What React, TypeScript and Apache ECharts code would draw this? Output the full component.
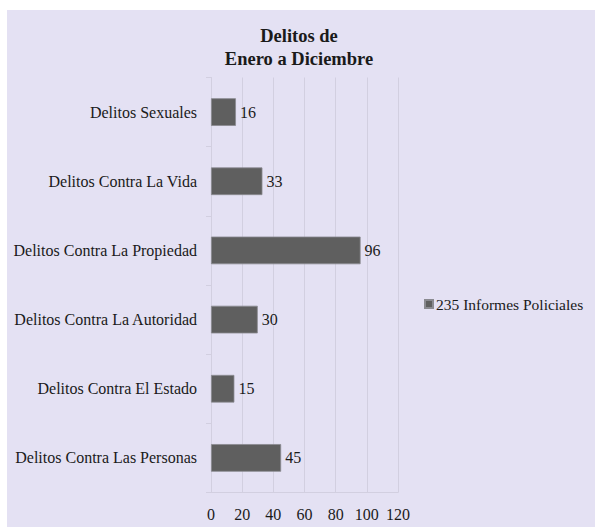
import React, { useEffect, useRef } from "react";
import * as echarts from "echarts";

const categories = [
  "Delitos Sexuales",
  "Delitos Contra La Vida",
  "Delitos Contra La Propiedad",
  "Delitos Contra La Autoridad",
  "Delitos Contra El Estado",
  "Delitos Contra Las Personas",
];
const values = [16, 33, 96, 30, 15, 45];
const seriesName = "235 Informes Policiales";
const titleText = "Delitos de\nEnero a Diciembre";

const FONT = "'Liberation Serif', 'DejaVu Serif', serif";

export default function App() {
  const ref = useRef<HTMLDivElement>(null);
  useEffect(() => {
    if (!ref.current) return;
    const chart = echarts.init(ref.current, undefined, { renderer: "svg" });
    chart.setOption({
      animation: false,
      backgroundColor: "#e4e1f3",
      textStyle: { fontFamily: FONT },
      title: {
        text: titleText,
        left: 287,
        top: 9,
        textAlign: "center",
        textStyle: {
          fontFamily: FONT,
          fontSize: 18.5,
          fontWeight: "bold",
          color: "#1a1a1a",
          lineHeight: 23,
        },
      },
      legend: {
        data: [seriesName],
        left: 412,
        top: 281,
        icon: "rect",
        itemWidth: 8,
        itemHeight: 8,
        itemGap: 4,
        textStyle: { fontFamily: FONT, fontSize: 15.5, color: "#1a1a1a", padding: [0, 0, 0, -2] },
      },
      grid: { left: 204, right: 197, top: 67.5, bottom: 34.5 },
      xAxis: {
        type: "value",
        min: 0,
        max: 120,
        interval: 20,
        axisLine: { show: true, lineStyle: { color: "#d2cfe0" } },
        axisTick: { show: false },
        splitLine: { show: true, lineStyle: { color: "#d2cfe0" } },
        axisLabel: { fontFamily: FONT, fontSize: 16, color: "#1a1a1a", margin: 14 },
      },
      yAxis: {
        type: "category",
        data: categories,
        inverse: true,
        axisLine: { show: true, lineStyle: { color: "#d2cfe0" } },
        axisTick: { show: true, length: 5, lineStyle: { color: "#d2cfe0" } },
        axisLabel: { fontFamily: FONT, fontSize: 16, color: "#1a1a1a", margin: 14 },
      },
      series: [
        {
          name: seriesName,
          type: "bar",
          data: values,
          barWidth: "40%",
          itemStyle: { color: "#5f5f5f", borderColor: "#8a8a90", borderWidth: 0.8 },
          label: {
            show: true,
            position: "right",
            distance: 4,
            fontFamily: FONT,
            fontSize: 16,
            color: "#1a1a1a",
          },
        },
      ],
    });
    return () => chart.dispose();
  }, []);
  return (
    <div
      ref={ref}
      style={{ position: "absolute", left: 7, top: 10, width: 588, height: 517 }}
    />
  );
}
